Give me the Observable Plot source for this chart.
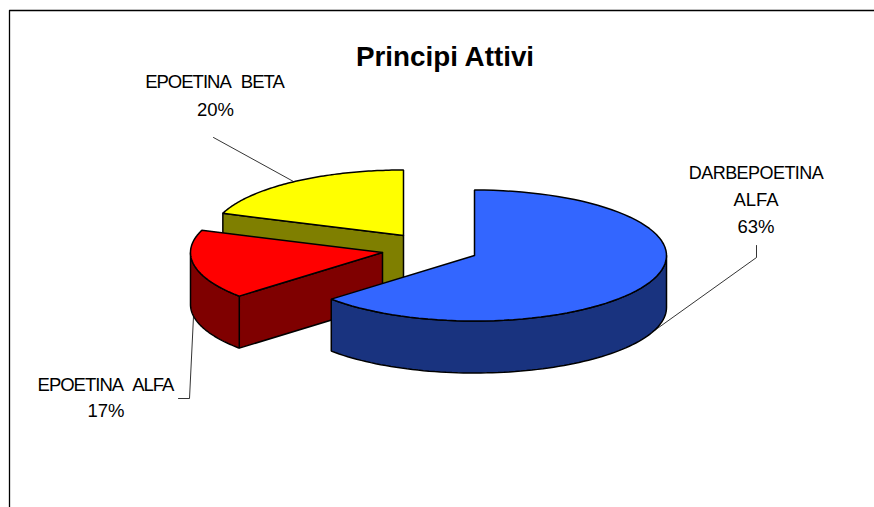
<!DOCTYPE html>
<html>
<head>
<meta charset="utf-8">
<script src="https://cdn.jsdelivr.net/npm/d3@7"></script>
<script src="https://cdn.jsdelivr.net/npm/@observablehq/plot@0.6"></script>
<style>html,body{margin:0;padding:0;background:#fff}</style>
</head>
<body>
<div id="chart"></div>
<script>
// Data, in drawing order clockwise from 12 o'clock
const names = ["DARBEPOETINA ALFA", "EPOETINA ALFA", "EPOETINA BETA"];
const shares = [63.4, 17.1, 19.5];
const topColors = ["#3366ff", "#ff0000", "#ffff00"];
const sideColors = ["#19337f", "#7f0000", "#7f7f00"];
const apexX = [474, 382, 403];
const apexY = [255, 252, 235];

// Pie projection settings
const rx = 192, ry = 65.5, depth = 52;

const starts = [];
shares.reduce((sum, s, i) => (starts[i] = sum, sum + s), 0);
const ang = (pct) => (pct / 100) * 2 * Math.PI;
const pt = (i, a, drop = 0) => [apexX[i] + rx * Math.sin(a), apexY[i] - ry * Math.cos(a) + drop];
const arc = (i, a0, a1, drop = 0) => {
  const n = 80;
  return d3.range(n + 1).map((k) => pt(i, a0 + (a1 - a0) * (k / n), drop));
};
const apex = (i, drop = 0) => [apexX[i], apexY[i] + drop];

const faces = [];
function face(points, fill) { faces.push({points: [...points, points[0]], fill}); }

// back to front: yellow, red, blue
[2, 1, 0].forEach((i) => {
  const a0 = ang(starts[i]), a1 = ang(starts[i] + shares[i]);
  if (i === 2) {
    face([pt(i, a0, 0), apex(i), apex(i, depth), pt(i, a0, depth)], sideColors[i]);
  }
  if (i === 1) {
    const leftmost = ang(75);
    face([pt(i, a0), apex(i), apex(i, depth), pt(i, a0, depth)], sideColors[i]);
    face([...arc(i, a0, leftmost), ...arc(i, leftmost, a0, depth)], sideColors[i]);
  }
  if (i === 0) {
    const rightmost = ang(25);
    face([...arc(i, rightmost, a1), ...arc(i, a1, rightmost, depth)], sideColors[i]);
  }
  face([apex(i), ...arc(i, a0, a1)], topColors[i]);
});

// Annotation
const frameLine = [[9, 507], [9, 10], [874, 10]];
const leaders = [
  [[213, 137], [293, 181]],
  [[193, 316], [189, 398], [178, 398]],
  [[756, 245], [756, 257], [654, 330]]
];
const tightLabels = [
  {text: "EPOETINA ALFA", x: 105, y: 390},
  {text: "EPOETINA BETA", x: 214, y: 87}
];
const semiLabels = [
  {text: "DARBEPOETINA", x: 755.5, y: 178}
];
const plainLabels = [
  {text: "ALFA", x: 755.5, y: 205},
  {text: "63%", x: 755.5, y: 232},
  {text: "17%", x: 105.5, y: 416},
  {text: "20%", x: 215, y: 115}
];
const textOpts = {x: "x", y: "y", text: "text", lineAnchor: "bottom", textAnchor: "middle", fill: "#000"};

const marks = [
  Plot.line(frameLine, {x: "0", y: "1", stroke: "#000", strokeWidth: 1.3}),
  ...leaders.map((l) => Plot.line(l, {x: "0", y: "1", stroke: "#000", strokeWidth: 0.8})),
  ...faces.map((f) => Plot.line(f.points, {
    x: "0", y: "1", fill: f.fill, stroke: "#000", strokeWidth: 1.5, strokeLinejoin: "miter"
  })),
  Plot.text(tightLabels, {...textOpts, fontSize: 18.5}),
  Plot.text(semiLabels, {...textOpts, fontSize: 18}),
  Plot.text(plainLabels, {...textOpts, fontSize: 18.5}),
  Plot.text(["Principi Attivi"], {
    x: [444.5], y: [65.5], text: (d) => d, lineAnchor: "bottom", textAnchor: "middle",
    fontSize: 27.8, fontWeight: "bold", fill: "#000"
  })
];

const chart = Plot.plot({
  width: 874,
  height: 507,
  margin: 0,
  style: {fontFamily: "'Liberation Sans', Arial, sans-serif", background: "#fff"},
  x: {domain: [0, 874], range: [0, 874], axis: null},
  y: {domain: [0, 507], range: [0, 507], axis: null},
  marks
});
// Tracking of the label type (tight capitals with wide word gaps)
d3.select(chart).selectAll("text").each(function () {
  const t = this.textContent;
  if (tightLabels.some((d) => d.text === t)) {
    this.style.letterSpacing = "-1px";
    this.style.wordSpacing = "7px";
  } else if (semiLabels.some((d) => d.text === t)) {
    this.style.letterSpacing = "-0.55px";
  }
});
document.getElementById("chart").appendChild(chart);
</script>
</body>
</html>
